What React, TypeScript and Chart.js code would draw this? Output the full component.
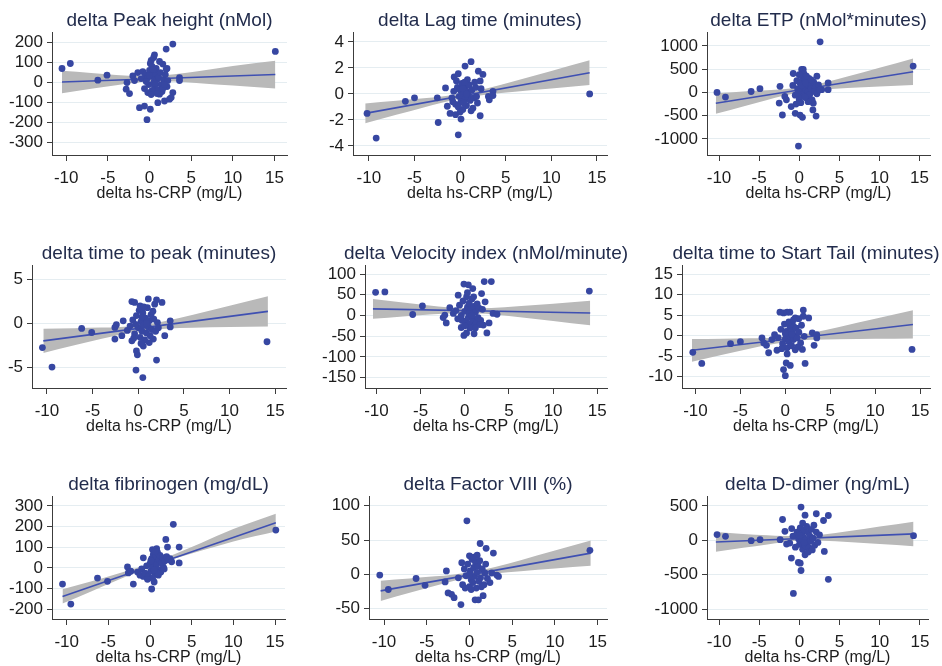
import React, { useEffect, useRef } from "react";
import { Chart, registerables } from "chart.js";

Chart.register(...registerables);

// ---------------- DATA ----------------
const xAxisTitle = "delta hs-CRP (mg/L)";
const hsCrpTicks = [-10, -5, 0, 5, 10, 15];

const bandXA = [-10.4, -7, -4, -2, 0.5, 3, 6, 10, 14.2];
const bandXB = [-10.5, -7, -4, -2, 0.5, 3, 6, 10, 15.1];

// Panel 1: delta Peak height (nMol)
const peakTitle = "delta Peak height (nMol)";
const peakYTicks = [-300, -200, -100, 0, 100, 200];
const peakPts: number[][] = [
  [-10.5, 70], [-9.5, 95], [-6.2, 12], [-5.1, 37], [-2.7, 0], [-2.8, -33], [-2.4, -55], [-2, 33], [-1.8, 10],
  [-1.2, -125], [-0.6, -117], [0.1, -133], [-0.3, -185], [0.6, 138], [2, 167], [2.8, 192], [1.6, 92], [2, 67],
  [1.8, -92], [2.4, -83], [3.6, 25], [3.6, 10], [15.1, 155], [1, -100], [1.2, -58], [2.8, -50], [2.6, -75],
  [-1.4, 50], [-0.8, 55], [-0.5, 40], [-0.3, 20], [-0.1, -10], [0, 60], [0.1, 95], [0.2, 110], [0.3, 80],
  [0.4, 30], [0.5, 0], [0.6, -20], [0.7, 45], [0.8, 70], [0.9, 15], [1, -35], [1.1, 25], [1.3, 50], [1.4, -10],
  [1.5, -45], [1.7, 15], [1.9, 40], [2.1, -20], [2.2, 10], [-0.6, -30], [-0.2, -50], [0.3, -40], [0.5, 125],
  [0.2, -60], [1.2, 105], [0.7, -5], [-1, 20], [-0.4, 5], [0.9, -55], [1.6, -30], [0.4, 65], [0, 35], [2.1, 70],
  [1.8, -10],
];
const peakFit = [3, 40];
const peakHi = [59, 48, 38, 33, 32, 41, 58, 83, 109];
const peakLo = [-53, -31, -13, -2, 7, 5.5, -3, -15, -29];

// Panel 2: delta Lag time (minutes)
const lagTitle = "delta Lag time (minutes)";
const lagYTicks = [-4, -2, 0, 2, 4];
const lagPts: number[][] = [
  [-10.2, -1.5], [-9.2, -3.4], [-6, -0.57], [-5, -0.3], [-2.5, -0.3], [-2.4, -2.2], [-1.6, 0.46], [-1.4, -0.95],
  [-0.65, 1.3], [-0.4, 1.0], [-0.2, 1.55], [0.54, 2.14], [1.2, 2.48], [-0.2, -3.15], [0.1, -1.94], [2, 1.75],
  [2.5, 1.5], [2.2, 1.0], [2.2, -1.68], [1.4, -1.1], [3.1, -0.2], [3.2, -0.45], [3.6, 0.2], [3.6, -0.13],
  [14.2, 0], [-1.1, -1.5], [-0.5, -1.6], [-0.9, -0.3], [-0.7, 0.2], [-0.5, -0.8], [-0.3, 0.5], [-0.1, -0.2],
  [0, 0.3], [0.1, -0.6], [0.2, 0.8], [0.3, -1.2], [0.4, 0.1], [0.5, -0.4], [0.6, 0.6], [0.7, -0.9], [0.8, 0.2],
  [0.9, -0.1], [1, 0.7], [1.1, -0.5], [1.3, 0.3], [1.5, -0.3], [1.7, 0.5], [1.9, -0.7], [0.2, -0.1], [0.4, -0.7],
  [0.6, -0.2], [-0.2, -1.0], [0.8, 1.1], [1.2, -1.3], [0, -1.4], [0.5, 0.9], [-0.8, -0.6], [1.6, 0.9], [0.3, 0.4],
  [0.7, 0.0], [1.8, -0.2], [2.3, 0.4],
];
const lagFit = [-1.5, 1.63];
const lagHi = [-0.74, -0.53, -0.34, -0.2, 0.05, 0.44, 0.99, 1.76, 2.58];
const lagLo = [-2.26, -1.61, -1.04, -0.68, -0.29, -0.04, 0.17, 0.42, 0.68];

// Panel 3: delta ETP (nMol*minutes)
const etpTitle = "delta ETP (nMol*minutes)";
const etpYTicks = [-1000, -500, 0, 500, 1000];
const etpPts: number[][] = [
  [-10.25, 0], [-9.2, -100], [-6, 20], [-4.9, 80], [-2.4, 130], [-2.5, -230], [-2.1, -485], [-1.8, -87],
  [-1.6, -160], [-1, -305], [-0.75, 406], [-0.1, -1153], [-0.5, -450], [0.3, 493], [0.5, 493], [0.4, -536],
  [0.1, -486], [1.75, -232], [1.7, -377], [2.1, -508], [2.2, 348], [2.6, 1087], [2.8, 58], [3.6, 203], [3.6, 58],
  [14.2, 565], [-0.8, 150], [-0.5, -60], [-0.3, 250], [-0.2, 80], [0, -150], [0.1, 200], [0.2, 30], [0.3, -80],
  [0.4, 320], [0.5, 120], [0.6, -20], [0.7, 260], [0.8, 60], [0.9, -120], [1, 180], [1.1, 20], [1.2, 300],
  [1.3, -50], [1.4, 140], [1.5, 80], [1.6, -160], [1.8, 220], [2, 100], [2.2, -30], [2.4, 160], [0.2, -220],
  [0.6, 400], [0.9, 350], [-0.4, -250], [1.1, -200], [0.3, 150], [0.7, -100], [1.9, 20], [2.5, 50], [-0.2, -20],
  [0.8, 210], [1.5, 270], [0, 380],
];
const etpFit = [-232, 442];
const etpHi = [-20, 22, 48, 70, 118, 207, 340, 527, 726];
const etpLo = [-460, -300, -162, -74, 16, 63, 94, 127, 158];

// Panel 4: delta time to peak (minutes)
const ttpTitle = "delta time to peak (minutes)";
const ttpYTicks = [-5, 0, 5];
const ttpPts: number[][] = [
  [-10.5, -2.77], [-9.45, -5], [-6.2, -0.58], [-5.1, -1.04], [-2.56, -0.46], [-2.4, -0.15], [-2.56, -1.8],
  [-1.8, -1.4], [-1.65, 0.3], [-0.7, 2.5], [-0.4, 2.4], [-0.7, -2], [-0.2, -3.15], [-0.1, -3.6], [-0.25, -5.35],
  [0.5, -6.2], [0.55, -2.6], [0.2, 2], [1.1, 2.8], [2, 2.7], [2.6, 2.4], [1.8, 2.2], [2, -4.2], [1.65, -1.8],
  [2.9, -1.4], [3.5, 0.3], [3.5, -0.4], [14.1, -2.1], [-1.2, -0.8], [-0.9, -0.3], [-0.6, 0.4], [-0.4, -1.2],
  [-0.2, 0.9], [0, -0.5], [0.1, 1.5], [0.2, -1.6], [0.3, 0.2], [0.4, -0.9], [0.5, 1.2], [0.6, -0.2], [0.7, -1.9],
  [0.8, 0.6], [0.9, -1.1], [1, 1.8], [1.1, -0.4], [1.2, 0.3], [1.3, -1.4], [1.4, 1.0], [1.5, -0.7], [1.7, 0.5],
  [1.9, -0.9], [2.1, 0.1], [0.3, -2.3], [0.6, 1.9], [-0.3, -0.1], [0.9, 0.0], [1.6, 1.4], [0.4, 0.7], [2.2, -0.5],
  [-0.5, -1.7], [1.2, -2.2],
];
const ttpFit = [-2, 1.38];
const ttpHi = [-0.61, -0.55, -0.48, -0.41, -0.19, 0.28, 1.0, 2.02, 3.11];
const ttpLo = [-3.39, -2.51, -1.76, -1.29, -0.81, -0.6, -0.5, -0.42, -0.35];

// Panel 5: delta Velocity index (nMol/minute)
const velTitle = "delta Velocity index (nMol/minute)";
const velYTicks = [-150, -100, -50, 0, 50, 100];
const velPts: number[][] = [
  [-10.1, 56], [-9.05, 57], [-5.9, 2.4], [-4.8, 23], [-2.45, -5], [-2.26, 1], [-2.1, -18], [-1.7, 19],
  [-0.1, 76], [0.4, 74], [0.9, 65], [2.2, 82], [3, 82], [1.9, 53], [2.3, 33], [-0.75, 49], [-0.4, -29],
  [-0.1, -48], [0.2, -42], [1.05, -44], [2.5, -42], [2.1, -23], [2.75, -18], [3.2, 5], [3.65, 3], [14.1, 59],
  [-1.3, 5], [-1, 12], [-0.8, -8], [-0.6, 25], [-0.4, 0], [-0.2, 35], [0, 10], [0.1, -15], [0.2, 45], [0.3, 20],
  [0.4, -5], [0.5, 30], [0.6, -20], [0.7, 15], [0.8, 40], [0.9, -10], [1, 22], [1.1, -25], [1.2, 8], [1.3, -18],
  [1.4, 28], [1.5, -5], [1.6, 18], [1.8, -12], [2, 15], [0.3, 55], [0.6, -30], [1.7, -22], [0.0, -25], [0.5, 5],
  [1.0, 45], [-0.3, -12], [1.2, -30], [0.8, 0],
];
const velFit = [16, 6];
const velHi = [39.7, 31.3, 24.3, 20.1, 16.9, 18.1, 22.2, 28.5, 35.5];
const velLo = [-7.7, -2.1, 2.5, 5.1, 6.3, 3.1, -3.4, -13.1, -23.5];

// Panel 6: delta time to Start Tail (minutes)
const tailTitle = "delta time to Start Tail (minutes)";
const tailYTicks = [-10, -5, 0, 5, 10, 15];
const tailPts: number[][] = [
  [-10.3, -4.1], [-9.3, -6.8], [-6.1, -2], [-5, -1.5], [-2.6, -0.6], [-2.4, -1.8], [-2.1, -2.4], [-1.86, -4.2],
  [-0.93, -3.6], [-0.6, 5.7], [-0.2, 5.5], [0.2, 5.7], [0.5, 5.7], [-0.2, -8.3], [0, -9.8], [0.1, -6.7],
  [0.55, -7.3], [0.9, 2.3], [1.1, 4.3], [1.5, 4.1], [2, 4.7], [2, 6.2], [2.6, 4.3], [2.2, -6.8], [1.9, -3.4],
  [3, 0.65], [3.2, -2.4], [3.5, -0.6], [3.5, 0.2], [14.1, -3.4], [-1.5, -1], [-1.2, 0.2], [-0.8, -0.5],
  [-0.5, 1.5], [-0.3, -2], [-0.1, 2.8], [0, -0.8], [0.1, 1], [0.2, -3], [0.3, 0.5], [0.4, -1.5], [0.5, 2.2],
  [0.6, -0.3], [0.7, -2.5], [0.8, 1.2], [0.9, -1], [1, 0], [1.1, -3.5], [1.2, 1.8], [1.3, -0.6], [1.5, 0.8],
  [1.7, -1.8], [1.8, 2.5], [2.1, -0.2], [0.4, 3.3], [0.2, -4.5], [0.7, 0.3], [1.4, -2.8], [-0.4, -3.2],
  [0.9, 3.8], [0.0, 0.5],
];
const tailFit = [-3.6, 2.7];
const tailHi = [-0.83, -0.77, -0.68, -0.58, -0.19, 0.7, 2.1, 4.06, 6.15];
const tailLo = [-6.37, -4.69, -3.24, -2.32, -1.43, -1.04, -0.9, -0.82, -0.75];

// Panel 7: delta fibrinogen (mg/dL)
const fibTitle = "delta fibrinogen (mg/dL)";
const fibYTicks = [-200, -100, 0, 100, 200, 300];
const fibPts: number[][] = [
  [-10.5, -78], [-9.5, -175], [-6.3, -49], [-5.1, -65], [-2.7, 5], [-2.6, -24], [-2, -78], [-2.3, -16],
  [-0.8, 49], [0.2, -102], [0.5, -68], [0.3, 89], [0.8, 93], [2.8, 211], [1.9, 138], [2.1, 101], [3.5, 101],
  [3.5, 24], [-0.8, -41], [15.1, 183], [-1.5, -20], [-1.2, -35], [-1, -5], [-0.6, -25], [-0.4, 10], [-0.2, -40],
  [0, 20], [0.1, -15], [0.2, 45], [0.3, 0], [0.4, 65], [0.5, 30], [0.6, -30], [0.7, 55], [0.8, 15], [0.9, 75],
  [1, -10], [1.1, 40], [1.2, 60], [1.3, -20], [1.4, 25], [1.5, 50], [1.6, 5], [1.8, 35], [2, 55], [2.2, 40],
  [0.3, -50], [0.6, 80], [1.0, -35], [0.1, 35], [1.7, -5], [2.4, 45], [2.6, 30], [0.9, -25], [-0.3, -55],
  [0.5, -10],
];
const fibFit = [-138, 219];
const fibHi = [-103.6, -64.4, -29.3, -5.3, 27.8, 67.2, 118.5, 188.3, 261.9];
const fibLo = [-172.4, -113, -61.1, -27.1, 12.4, 45.4, 81.3, 127.7, 176.1];

// Panel 8: delta Factor VIII (%)
const f8Title = "delta Factor VIII (%)";
const f8YTicks = [-50, 0, 50, 100];
const f8Pts: number[][] = [
  [-10.5, -1], [-9.5, -22], [-6.25, -6], [-5.2, -16], [-2.7, 5], [-2.85, -11], [-2.5, -27], [-2.1, -29],
  [-1.8, -34], [-0.3, 78], [1.25, 45], [1.95, 38], [2.8, 31], [0, 27], [-0.9, 17], [-1, -44], [0.66, -37],
  [1.05, -37], [1.6, -31], [2.4, -12], [2.6, 2], [3.2, -1], [3.4, -3], [14.1, 35], [-1.3, -5], [-0.8, -15],
  [-0.6, 8], [-0.4, -2], [-0.2, 15], [0, -18], [0.1, 5], [0.2, -8], [0.3, 22], [0.4, -12], [0.5, 10], [0.6, -3],
  [0.7, 18], [0.8, -20], [0.9, 3], [1, 12], [1.1, -10], [1.2, 20], [1.3, -5], [1.5, 8], [1.7, -15], [1.9, 15],
  [2.1, -6], [0.2, -22], [0.5, 25], [1.4, -18], [-0.5, -20], [0.9, 28], [1.8, 2], [0, 0],
];
const f8Fit = [-24, 31];
const f8Hi = [-9.2, -6, -2.9, -0.5, 3.7, 10.7, 20.7, 34.6, 49.4];
const f8Lo = [-38.8, -26.8, -16.5, -9.9, -2.9, 1.3, 4.7, 8.6, 12.6];

// Panel 9: delta D-dimer (ng/mL)
const ddTitle = "delta D-dimer (ng/mL)";
const ddYTicks = [-1000, -500, 0, 500];
const ddPts: number[][] = [
  [-10.25, 83], [-9.2, 58], [-6, -5], [-4.9, 10], [-2.4, 10], [-2.1, 302], [-1.8, 131], [-1.6, -54],
  [-1, -258], [-0.96, 170], [-0.13, -321], [0.1, -331], [0.2, -438], [-0.75, -770], [0.2, 482], [0.7, 365],
  [2.1, 385], [3, 287], [3.6, 360], [3.1, -161], [3.6, -565], [0.7, -209], [14.2, 68], [-1.2, -40], [-0.8, 60],
  [-0.5, -100], [-0.3, 120], [-0.1, 20], [0, -60], [0.1, 180], [0.2, -20], [0.3, 90], [0.4, -130], [0.5, 40],
  [0.6, 150], [0.7, -80], [0.8, 10], [0.9, 200], [1, -40], [1.1, 110], [1.2, -110], [1.3, 60], [1.4, -10],
  [1.5, 160], [1.7, 30], [1.9, -70], [2.1, 120], [2.3, -30], [2.5, 80], [0.4, 250], [1.1, -170], [0.0, 70],
  [1.6, -140], [0.6, -30], [1.8, 220],
];
const ddFit = [-24, 93];
const ddHi = [119, 93, 72, 61, 60, 85, 131, 199, 271];
const ddLo = [-167, -109, -60, -29, -4, -5, -23, -53, -85];

// ---------------- STYLE / LAYOUT ----------------
const FONT = "'Liberation Sans', Arial, Helvetica, sans-serif";
const DOT = "#3747a2";
const LINE = "#3f50b2";
const BAND = "#b9b9b9";
const GRID = "#e5edf1";
const AXIS = "#3c3c3c";
const TICK_TXT = "#1c1c1c";
const TITLE_TXT = "#222c4c";
const TITLE_SIZE = 19;
const TITLE_PAD_TOP = 7;
const TITLE_PAD_BOTTOM = 1;
const TICK_SIZE = 17;
const AXIS_TITLE_SIZE = 16;
const X_AXIS_H = 50;

type Panel = {
  title: string;
  pts: number[][];
  bandX: number[];
  hi: number[];
  lo: number[];
  fit: number[];
  yTicks: number[];
  yMin: number;
  yMax: number;
  xMin: number;
  xMax: number;
  cellLeft: number;
  L: number;
  R: number;
  T: number;
  B: number;
};

const panels: Panel[] = [
  { title: peakTitle, pts: peakPts, bandX: bandXB, hi: peakHi, lo: peakLo, fit: peakFit, yTicks: peakYTicks,
    yMin: -361, yMax: 248, xMin: -11.7, xMax: 16.5, cellLeft: 0, L: 52, R: 287, T: 33, B: 155 },
  { title: lagTitle, pts: lagPts, bandX: bandXA, hi: lagHi, lo: lagLo, fit: lagFit, yTicks: lagYTicks,
    yMin: -4.7, yMax: 4.7, xMin: -11.74, xMax: 16.1, cellLeft: 314, L: 353, R: 607, T: 33, B: 155 },
  { title: etpTitle, pts: etpPts, bandX: bandXA, hi: etpHi, lo: etpLo, fit: etpFit, yTicks: etpYTicks,
    yMin: -1344, yMax: 1280, xMin: -11.5, xMax: 16.3, cellLeft: 628, L: 707, R: 930, T: 33, B: 155 },
  { title: ttpTitle, pts: ttpPts, bandX: bandXA, hi: ttpHi, lo: ttpLo, fit: ttpFit, yTicks: ttpYTicks,
    yMin: -7.4, yMax: 6.6, xMin: -11.64, xMax: 16.18, cellLeft: 0, L: 32, R: 286, T: 266, B: 388 },
  { title: velTitle, pts: velPts, bandX: bandXA, hi: velHi, lo: velLo, fit: velFit, yTicks: velYTicks,
    yMin: -175, yMax: 120, xMin: -11.3, xMax: 16.1, cellLeft: 314, L: 365, R: 607, T: 266, B: 388 },
  { title: tailTitle, pts: tailPts, bandX: bandXA, hi: tailHi, lo: tailLo, fit: tailFit, yTicks: tailYTicks,
    yMin: -12.8, yMax: 17, xMin: -11.5, xMax: 16.1, cellLeft: 628, L: 682, R: 930, T: 266, B: 388 },
  { title: fibTitle, pts: fibPts, bandX: bandXB, hi: fibHi, lo: fibLo, fit: fibFit, yTicks: fibYTicks,
    yMin: -247, yMax: 344, xMin: -11.76, xMax: 16.2, cellLeft: 0, L: 52, R: 285, T: 497, B: 619 },
  { title: f8Title, pts: f8Pts, bandX: bandXA, hi: f8Hi, lo: f8Lo, fit: f8Fit, yTicks: f8YTicks,
    yMin: -65, yMax: 113, xMin: -11.76, xMax: 16.1, cellLeft: 314, L: 369, R: 607, T: 497, B: 619 },
  { title: ddTitle, pts: ddPts, bandX: bandXA, hi: ddHi, lo: ddLo, fit: ddFit, yTicks: ddYTicks,
    yMin: -1141, yMax: 631, xMin: -11.5, xMax: 16.0, cellLeft: 628, L: 707, R: 928, T: 497, B: 619 },
];

function PanelChart({ p }: { p: Panel }) {
  const ref = useRef<HTMLCanvasElement>(null);
  const yW = p.L - p.cellLeft;
  const titleH = TITLE_SIZE * 1.2 + TITLE_PAD_TOP + TITLE_PAD_BOTTOM;
  const width = Math.round(p.R - p.L + 2 * yW);
  const height = Math.round(titleH + (p.B - p.T) + X_AXIS_H);
  const top = p.T - titleH;

  useEffect(() => {
    if (!ref.current) return;
    const xEnds = [p.bandX[0], p.bandX[p.bandX.length - 1]];
    const chart = new Chart(ref.current, {
      type: "scatter",
      data: {
        datasets: [
          {
            type: "scatter",
            data: p.pts.map(([x, y]) => ({ x, y })),
            backgroundColor: DOT,
            borderColor: DOT,
            borderWidth: 0,
            pointRadius: 3.4,
            pointHoverRadius: 3.4,
            xAxisID: "x",
            yAxisID: "y",
          },
          {
            type: "line",
            data: xEnds.map((x, i) => ({ x, y: p.fit[i] })),
            borderColor: LINE,
            borderWidth: 1.6,
            pointRadius: 0,
            fill: false,
            xAxisID: "x",
            yAxisID: "y",
          },
          {
            type: "line",
            data: p.bandX.map((x, i) => ({ x, y: p.lo[i] })),
            borderColor: "rgba(0,0,0,0)",
            borderWidth: 1,
            pointRadius: 0,
            fill: false,
            cubicInterpolationMode: "monotone",
            xAxisID: "x",
            yAxisID: "y",
          },
          {
            type: "line",
            data: p.bandX.map((x, i) => ({ x, y: p.hi[i] })),
            borderColor: "rgba(0,0,0,0)",
            borderWidth: 1,
            pointRadius: 0,
            fill: "-1",
            backgroundColor: BAND,
            cubicInterpolationMode: "monotone",
            xAxisID: "x",
            yAxisID: "y",
          },
        ] as any,
      },
      options: {
        animation: false,
        responsive: false,
        maintainAspectRatio: false,
        layout: { padding: 0 },
        plugins: {
          legend: { display: false },
          tooltip: { enabled: false },
          title: {
            display: true,
            text: p.title,
            color: TITLE_TXT,
            font: { family: FONT, size: TITLE_SIZE, weight: "normal", lineHeight: 1.2 },
            padding: { top: TITLE_PAD_TOP, bottom: TITLE_PAD_BOTTOM },
          },
        },
        scales: {
          x: {
            type: "linear",
            position: "bottom",
            min: p.xMin,
            max: p.xMax,
            afterBuildTicks: (s: any) => {
              s.ticks = hsCrpTicks.map((v) => ({ value: v }));
            },
            afterFit: (s: any) => {
              s.height = X_AXIS_H;
            },
            grid: { drawOnChartArea: false, drawTicks: true, tickLength: 6, tickColor: AXIS, tickWidth: 1 },
            border: { display: true, color: AXIS, width: 1 },
            ticks: {
              color: TICK_TXT,
              font: { family: FONT, size: TICK_SIZE },
              padding: 7,
              maxRotation: 0,
              autoSkip: false,
              callback: (v: any) => String(v),
            },
            title: {
              display: true,
              text: xAxisTitle,
              color: TICK_TXT,
              font: { family: FONT, size: AXIS_TITLE_SIZE, lineHeight: 1.2 },
              padding: { top: 0, bottom: 2 },
            },
          },
          y: {
            type: "linear",
            position: "left",
            min: p.yMin,
            max: p.yMax,
            afterBuildTicks: (s: any) => {
              s.ticks = p.yTicks.map((v) => ({ value: v }));
            },
            afterFit: (s: any) => {
              s.width = yW;
            },
            grid: { color: GRID, lineWidth: 1, drawTicks: true, tickLength: 5, tickColor: AXIS, tickWidth: 1 },
            border: { display: true, color: AXIS, width: 1 },
            ticks: {
              color: TICK_TXT,
              font: { family: FONT, size: TICK_SIZE },
              padding: 4,
              autoSkip: false,
              callback: (v: any) => String(v),
            },
          },
          yR: {
            type: "linear",
            position: "right",
            display: true,
            grid: { display: false },
            border: { display: false },
            ticks: { display: false },
            afterFit: (s: any) => {
              s.width = yW;
            },
          },
        },
      } as any,
    });
    return () => chart.destroy();
  }, []);

  return (
    <canvas
      ref={ref}
      width={width}
      height={height}
      style={{ position: "absolute", left: p.cellLeft, top, width, height }}
    />
  );
}

export default function App() {
  return (
    <div
      style={{
        position: "absolute",
        left: 0,
        top: 0,
        width: 942,
        height: 666,
        overflow: "hidden",
        background: "#ffffff",
      }}
    >
      {panels.map((p, i) => (
        <PanelChart key={i} p={p} />
      ))}
    </div>
  );
}
